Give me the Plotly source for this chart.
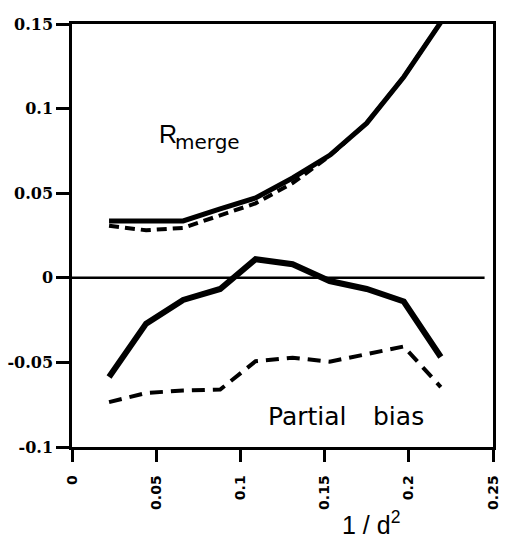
import plotly.graph_objects as go

# 1/d^2 resolution shells
x_shell = [0.022, 0.044, 0.066, 0.088, 0.109, 0.131, 0.153, 0.175, 0.197, 0.219]

# R_merge (solid) and its companion (dashed)
rmerge_solid = [0.0336, 0.0336, 0.0336, 0.0408, 0.0472, 0.0590, 0.0724, 0.0914, 0.1187, 0.1510]
rmerge_dashed = [0.0307, 0.0281, 0.0295, 0.0370, 0.0440, 0.0560, 0.0720, 0.0914, 0.1187, 0.1510]

# Partial bias (solid) and dashed
bias_solid = [-0.0586, -0.0271, -0.0131, -0.0066, 0.0110, 0.0080, -0.0019, -0.0066, -0.0140, -0.0468]
bias_dashed = [-0.0735, -0.0681, -0.0666, -0.0660, -0.0493, -0.0472, -0.0496, -0.0450, -0.0406, -0.0646]

zero_x = [0.0, 0.245]
zero_y = [0.0, 0.0]

x_tickvals = [0, 0.05, 0.1, 0.15, 0.2, 0.25]
x_ticktext = ["0", "0.05", "0.1", "0.15", "0.2", "0.25"]
y_tickvals = [0.15, 0.1, 0.05, 0, -0.05, -0.1]
y_ticktext = ["0.15", "0.1", "0.05", "0", "-0.05", "-0.1"]

fig = go.Figure()

fig.add_trace(go.Scatter(x=zero_x, y=zero_y, mode="lines",
                         line=dict(color="black", width=2.5), showlegend=False))
fig.add_trace(go.Scatter(x=x_shell, y=rmerge_dashed, mode="lines",
                         line=dict(color="black", width=4, dash="10px,6px"), showlegend=False))
fig.add_trace(go.Scatter(x=x_shell, y=rmerge_solid, mode="lines",
                         line=dict(color="black", width=5), showlegend=False))
fig.add_trace(go.Scatter(x=x_shell, y=bias_dashed, mode="lines",
                         line=dict(color="black", width=4, dash="13px,8px"), showlegend=False))
fig.add_trace(go.Scatter(x=x_shell, y=bias_solid, mode="lines",
                         line=dict(color="black", width=6), showlegend=False))

sans = dict(family="Liberation Sans, Arial, sans-serif", color="black")
wide = dict(family="DejaVu Sans, sans-serif", color="black")

fig.add_annotation(x=0.057, y=0.085, xref="x", yref="y", text="R", showarrow=False,
                   xanchor="center", yanchor="middle", font=dict(size=25, **sans))
fig.add_annotation(x=0.0805, y=0.0805, xref="x", yref="y", text="merge", showarrow=False,
                   xanchor="center", yanchor="middle", font=dict(size=20, **wide))
fig.add_annotation(x=0.1401, y=-0.0817, xref="x", yref="y", text="Partial", showarrow=False,
                   xanchor="center", yanchor="middle", font=dict(size=25, **wide))
fig.add_annotation(x=0.1936, y=-0.0817, xref="x", yref="y", text="bias", showarrow=False,
                   xanchor="center", yanchor="middle", font=dict(size=25, **wide))
fig.add_annotation(x=0.1777, y=-0.179, xref="x", yref="paper", text="1 / d<sup>2</sup>",
                   showarrow=False, xanchor="center", yanchor="middle",
                   font=dict(size=25, **sans))

fig.update_xaxes(range=[0, 0.25], tickvals=x_tickvals, ticktext=x_ticktext, tickangle=-90,
                 showline=True, linecolor="black", linewidth=2.5, mirror=True,
                 ticks="outside", ticklen=12, tickwidth=2.5, tickcolor="black",
                 ticklabelstandoff=8,
                 showgrid=False, zeroline=False,
                 tickfont=dict(family="DejaVu Sans", size=14, color="black", weight="bold"))
fig.update_yaxes(range=[-0.1, 0.15], tickvals=y_tickvals, ticktext=y_ticktext,
                 showline=True, linecolor="black", linewidth=2.5, mirror=True,
                 ticks="outside", ticklen=13, tickwidth=2.5, tickcolor="black",
                 showgrid=False, zeroline=False,
                 tickfont=dict(family="DejaVu Serif", size=16, color="black", weight="bold"))

fig.update_layout(width=508, height=537, margin=dict(l=72, r=7, t=24, b=90),
                  paper_bgcolor="white", plot_bgcolor="white", showlegend=False)

fig.write_html("out.html")
